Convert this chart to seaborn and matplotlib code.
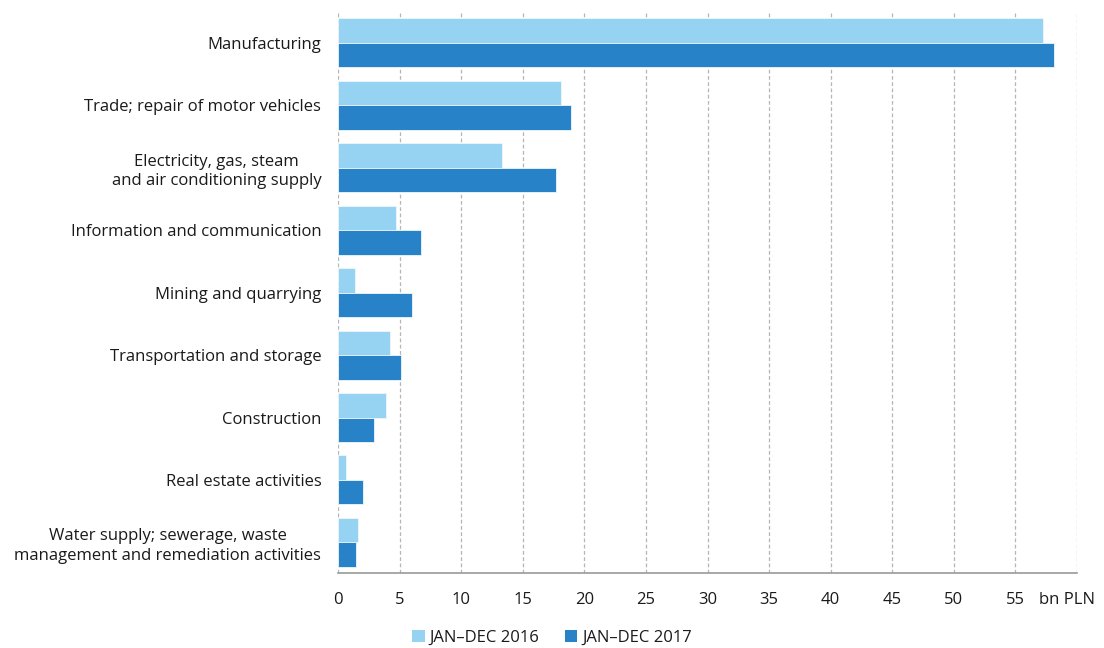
import matplotlib
matplotlib.use("Agg")
import matplotlib.pyplot as plt
from matplotlib.patches import Patch
import seaborn as sns
import pandas as pd

# Sections of the economy (top to bottom)
categories = [
    "Manufacturing",
    "Trade; repair of motor vehicles",
    "Electricity, gas, steam\nand air conditioning supply",
    "Information and communication",
    "Mining and quarrying",
    "Transportation and storage",
    "Construction",
    "Real estate activities",
    "Water supply; sewerage, waste\nmanagement and remediation activities",
]

# Values in bn PLN
values_2016 = [57.2, 18.1, 13.3, 4.7, 1.4, 4.2, 3.9, 0.65, 1.65]
values_2017 = [58.1, 18.9, 17.7, 6.7, 6.0, 5.1, 2.9, 2.0, 1.5]

series_names = ["JAN\u2013DEC 2016", "JAN\u2013DEC 2017"]
series_colors = ["#96D3F2", "#2782C7"]

x_ticks = [0, 5, 10, 15, 20, 25, 30, 35, 40, 45, 50, 55, 60]
x_tick_labels = ["0", "5", "10", "15", "20", "25", "30", "35", "40", "45", "50", "55", ""]
unit_label = "bn PLN"

df = pd.DataFrame({
    "category": categories * 2,
    "value": values_2016 + values_2017,
    "period": [series_names[0]] * len(categories) + [series_names[1]] * len(categories),
})

sns.set_style("white")
plt.rcParams["font.family"] = ["Open Sans", "DejaVu Sans"]
text_color = "#1a1a1a"
fs = 12

fig = plt.figure(figsize=(11.04, 6.48), dpi=100)
ax = fig.add_axes([338 / 1104, 1 - 573 / 648, (1077 - 338) / 1104, (573 - 11) / 648])

sns.barplot(
    data=df, x="value", y="category", hue="period", orient="h",
    palette=series_colors, saturation=1, order=categories, hue_order=series_names,
    width=0.785, edgecolor="#eef6fb", linewidth=0.6, legend=False, ax=ax,
)

ax.set_xlim(0, 60)
ax.set_ylim(len(categories) - 0.51, -0.51)
ax.set_xticks(x_ticks)
ax.set_xticklabels(x_tick_labels)
ax.set_xlabel("")
ax.set_ylabel("")

# Dashed vertical gridlines behind the bars
ax.set_axisbelow(True)
ax.xaxis.grid(True, linestyle=(0, (3, 2)), color="#b5b5b5", linewidth=0.9)
ax.yaxis.grid(False)

for side in ("top", "right", "left"):
    ax.spines[side].set_visible(False)
ax.spines["bottom"].set_color("#9a9a9a")
ax.spines["bottom"].set_linewidth(1.2)

ax.tick_params(axis="x", which="major", direction="out", length=6, width=1.0,
               color="#9a9a9a", labelsize=fs, labelcolor=text_color, pad=8)
ax.tick_params(axis="y", length=0, labelsize=fs, labelcolor=text_color, pad=12)
for lbl in ax.get_yticklabels():
    lbl.set_horizontalalignment("right")
    lbl.set_multialignment("center")
    lbl.set_linespacing(1.3)

# Unit label beside the last tick
ax.annotate(unit_label, xy=(60, 0), xycoords=("data", "axes fraction"),
            xytext=(-7.5, -14), textcoords="offset points",
            ha="center", va="top", fontsize=fs, color=text_color)

handles = [Patch(facecolor=c, edgecolor="none", label=n)
           for c, n in zip(series_colors, series_names)]
fig.legend(handles=handles, loc="center", bbox_to_anchor=(0.5, 1 - 638 / 648),
           ncol=2, frameon=False, fontsize=fs, handlelength=0.75, handleheight=0.75,
           handletextpad=0.3, columnspacing=1.5, labelcolor=text_color)

fig.savefig("out.png", dpi=100)
